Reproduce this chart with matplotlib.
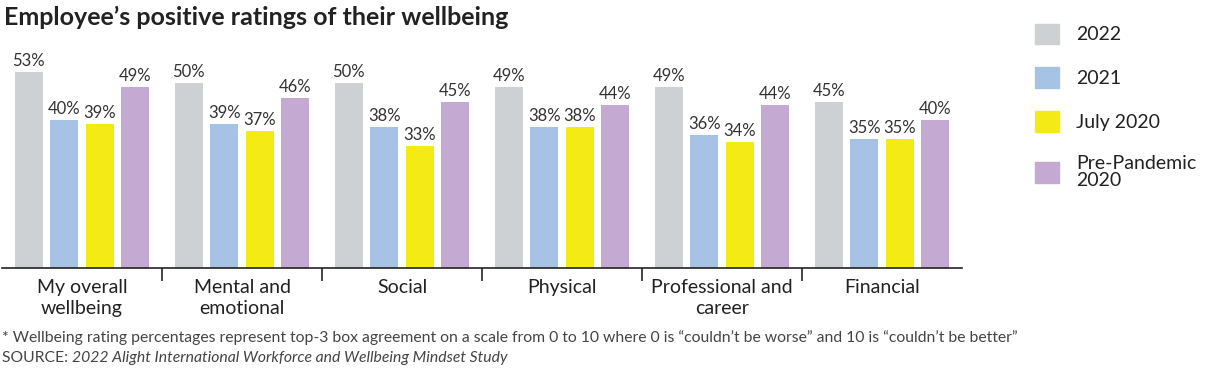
import matplotlib.pyplot as plt
import matplotlib.patches as mpatches
import numpy as np

categories = ["My overall\nwellbeing", "Mental and\nemotional", "Social", "Physical",
              "Professional and\ncareer", "Financial"]
series = ["2022", "2021", "July 2020", "Pre-Pandemic\n2020"]
v2022 = [53, 50, 50, 49, 49, 45]
v2021 = [40, 39, 38, 38, 36, 35]
vjuly2020 = [39, 37, 33, 38, 34, 35]
vpre2020 = [49, 46, 45, 44, 44, 40]
colors = ["#CDD1D3", "#A6C3E5", "#F5EB14", "#C4A9D3"]

plt.rcParams['font.family'] = ['Lato', 'DejaVu Sans']

fig = plt.figure(figsize=(12.25, 3.75), dpi=100)
ax = fig.add_axes([2 / 1225, 107 / 375, 960 / 1225, 222 / 375])

x = np.arange(len(categories))
width = 0.175
step = 0.222
for k, (vals, c) in enumerate(zip([v2022, v2021, vjuly2020, vpre2020], colors)):
    pos = x + (k - 1.5) * step
    bars = ax.bar(pos, vals, width, color=c, zorder=2)
    for b, v in zip(bars, vals):
        ax.text(b.get_x() + b.get_width() / 2, v + 0.8, f"{v}%", ha='center', va='bottom',
                fontsize=12, color='#333333')

ax.set_xlim(-0.5, len(categories) - 0.5)
ax.set_ylim(0, 60)
for s in ['top', 'right', 'left']:
    ax.spines[s].set_visible(False)
ax.spines['bottom'].set_color('#222222')
ax.spines['bottom'].set_linewidth(1.2)
ax.set_yticks([])
ax.set_xticks(x)
ax.set_xticklabels(categories, fontsize=14, color='#222222', linespacing=1.3)
ax.tick_params(axis='x', which='major', length=0, pad=8)
ax.set_xticks(np.arange(0.5, len(categories) - 1, 1), minor=True)
ax.tick_params(axis='x', which='minor', length=9, width=1.2, color='#222222', direction='out')

fig.text(4 / 1225, 1 - 17 / 375, "Employee\u2019s positive ratings of their wellbeing",
         fontsize=18, fontweight='bold', color='#222222', va='center', ha='left')

handles = [mpatches.Patch(color=c, label=s) for c, s in zip(colors, series)]
leg = fig.legend(handles=handles, loc='upper left', bbox_to_anchor=(1017 / 1225, 1 - 6 / 375),
                 frameon=False, fontsize=14, handlelength=1.25, handleheight=1.25,
                 labelspacing=1.2, handletextpad=0.9, labelcolor='#222222')
for txt in leg.get_texts():
    txt.set_linespacing(1.0)

fig.text(2 / 1225, 1 - 338 / 375,
         "* Wellbeing rating percentages represent top-3 box agreement on a scale from 0 to 10 "
         "where 0 is \u201ccouldn\u2019t be worse\u201d and 10 is \u201ccouldn\u2019t be better\u201d",
         fontsize=11.3, color='#444444', va='center')
t = fig.text(2 / 1225, 1 - 358 / 375, "SOURCE: ", fontsize=11.3, color='#444444', va='center')
fig.canvas.draw()
bb = t.get_window_extent()
fig.text(bb.x1 / 1225, 1 - 358 / 375, "2022 Alight International Workforce and Wellbeing Mindset Study",
         fontsize=11.3, color='#444444', va='center', style='italic')

fig.savefig("out.png", dpi=100)
